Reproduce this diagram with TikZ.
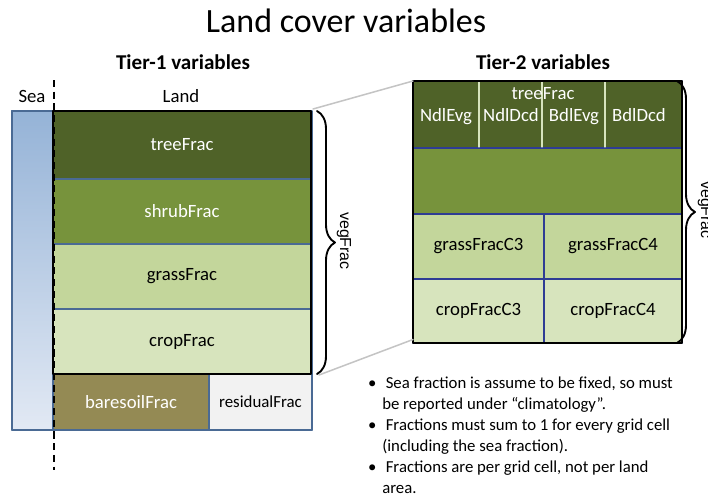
\documentclass[tikz,border=0pt]{standalone}
\usepackage{fontspec}
\setmainfont{Carlito}
\newfontfamily\bracefont{Liberation Sans}
\usetikzlibrary{positioning,decorations.pathreplacing}

\definecolor{treecol}{HTML}{4F6228}
\definecolor{shrubcol}{HTML}{77933C}
\definecolor{grasscol}{HTML}{C3D69B}
\definecolor{cropcol}{HTML}{D7E4BD}
\definecolor{barecol}{HTML}{948A54}
\definecolor{residcol}{HTML}{F2F2F2}
\definecolor{cellblue}{HTML}{4A6A94}
\definecolor{cellnavy}{HTML}{2E3C94}
\definecolor{seatop}{HTML}{95B3D7}
\definecolor{seabot}{HTML}{E2E9F4}
\definecolor{linkgrey}{HTML}{C4C4C4}

\newcommand{\pxu}{0.03cm}

\begin{document}
\begin{tikzpicture}[line cap=round,line join=round,x=0.03cm,y=-0.03cm,
    cell/.style={draw=cellblue,line width=0.9pt,inner sep=0pt,outer sep=0pt,
        anchor=north west,font=\fontsize{16}{19}\selectfont,text=black},
    rcell/.style={cell,draw=cellnavy},
    collabel/.style={font=\fontsize{16}{19}\selectfont,text=white,inner sep=0pt,anchor=base},
    heading/.style={font=\fontsize{18}{22}\selectfont\bfseries},
    sidelabel/.style={font=\fontsize{16}{19}\selectfont},
    vegbrace/.style={decorate,decoration={brace,amplitude=18*\pxu},line width=1.6pt},
    veglabel/.style={font=\bracefont\fontsize{13.6}{16}\selectfont,rotate=-90},
    frame/.style={line width=2.2pt},
    link/.style={draw=linkgrey,line width=1.3pt}]
\useasboundingbox (0,0) rectangle (708,494);

% titles
\node[font=\fontsize{29}{34}\selectfont] (title) at (346,21) {Land cover variables};
\node[heading] (tierone) at (183,62) {Tier-1 variables};
\node[heading] (tiertwo) at (543,62) {Tier-2 variables};
\node[sidelabel] (sealab) at (32,96) {Sea};
\node[sidelabel] (landlab) at (181,96) {Land};

% tier-1 cells
\node[cell,top color=seatop,bottom color=seabot,minimum width=41*\pxu,minimum height=319*\pxu] (sea) at (12,111) {};
\node[cell,fill=treecol,text=white,minimum width=258*\pxu,minimum height=68*\pxu] (tree) at (53,111) {treeFrac};
\node[cell,fill=shrubcol,text=white,minimum width=258*\pxu,minimum height=65*\pxu,below=0pt of tree] (shrub) {shrubFrac};
\node[cell,fill=grasscol,minimum width=258*\pxu,minimum height=65*\pxu,below=0pt of shrub] (grass) {grassFrac};
\node[cell,fill=cropcol,minimum width=258*\pxu,minimum height=65*\pxu,below=0pt of grass] (crop) {cropFrac};
\node[cell,fill=barecol,text=white,minimum width=156*\pxu,minimum height=56*\pxu] (bare) at (53,374) {baresoilFrac};
\node[cell,fill=residcol,font=\fontsize{14.4}{17}\selectfont,minimum width=103*\pxu,minimum height=56*\pxu] (resid) at (209,374) {residualFrac};
\draw[cellblue,line width=0.9pt] (sea.north west) rectangle (resid.south east);
\draw[frame] (tree.north west) rectangle (crop.south east);

% sea / land split
\coordinate (splittop) at (54,80);
\coordinate (splitbot) at (54,470);
\draw[line width=1.7pt,line cap=butt,dash pattern=on 6pt off 4pt] (splittop) -- (splitbot);

% tier-2 cells
\node[rcell,fill=treecol,minimum width=269*\pxu,minimum height=67*\pxu] (treetwo) at (413,81) {};
\node[rcell,fill=shrubcol,minimum width=269*\pxu,minimum height=66*\pxu,below=0pt of treetwo] (shrubtwo) {};
\node[rcell,fill=grasscol,minimum width=131*\pxu,minimum height=65*\pxu] (grassthree) at (413,214) {grassFracC3};
\node[rcell,fill=grasscol,minimum width=138*\pxu,minimum height=65*\pxu] (grassfour) at (544,214) {grassFracC4};
\node[rcell,fill=cropcol,minimum width=131*\pxu,minimum height=64*\pxu] (cropthree) at (413,279) {cropFracC3};
\node[rcell,fill=cropcol,minimum width=138*\pxu,minimum height=64*\pxu] (cropfour) at (544,279) {cropFracC4};
\foreach \xd in {479,542,605}
    \draw[cropcol,line width=1.1pt] (\xd,82) -- (\xd,147);
\node[collabel] (treesplit) at (543,99) {treeFrac};
\node[collabel] (ndlevg) at (446,121) {NdlEvg};
\node[collabel] (ndldcd) at (511,121) {NdlDcd};
\node[collabel] (bdlevg) at (574,121) {BdlEvg};
\node[collabel] (bdldcd) at (639,121) {BdlDcd};
\draw[frame] (treetwo.north west) rectangle (cropfour.south east);

% zoom links
\draw[link] ([shift={(2,-2)}]tree.north east) -- (treetwo.north west);
\draw[link] ([shift={(8,1)}]crop.south east) -- ([yshift=3]cropthree.south west);

% braces
\draw[vegbrace] ([xshift=6*\pxu]tree.north east) -- ([xshift=6*\pxu]crop.south east)
    coordinate[midway] (leftmid);
\node[veglabel] (vegone) at (344,241) {vegFrac};
\draw[vegbrace] ([xshift=-5*\pxu]treetwo.north east) -- ([xshift=-5*\pxu]cropfour.south east)
    coordinate[midway] (rightmid);
\node[veglabel] (vegtwo) at (705,210) {vegFrac};

% notes
\node[anchor=north west,inner sep=0pt,align=left,font=\fontsize{14.3}{17.9}\selectfont] (notes) at (368,377)
    {\makebox[15pt][l]{\textbullet}Sea fraction is assume to be fixed, so must\\
     \hspace*{12pt}be reported under “climatology”.\\
     \makebox[15pt][l]{\textbullet}Fractions must sum to 1 for every grid cell\\
     \hspace*{12pt}(including the sea fraction).\\
     \makebox[15pt][l]{\textbullet}Fractions are per grid cell, not per land\\
     \hspace*{12pt}area.};
\end{tikzpicture}
\end{document}
